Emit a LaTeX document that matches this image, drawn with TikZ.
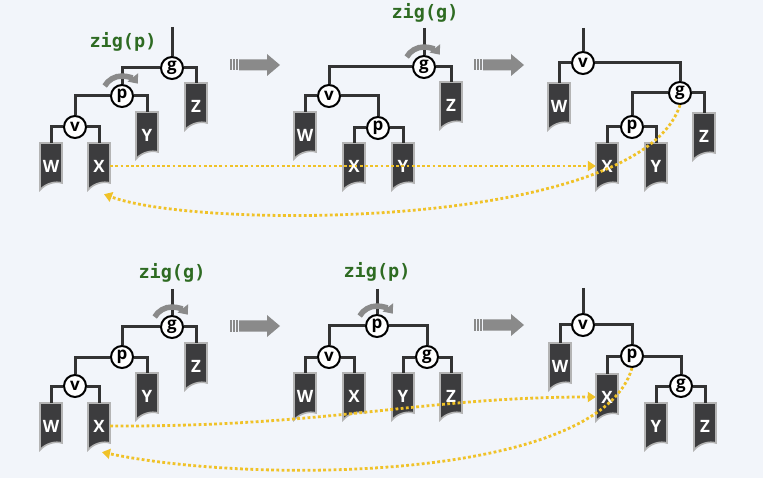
\documentclass[tikz,border=0pt]{standalone}
\usepackage{fontspec}
\setsansfont{Open Sans}
\setmonofont{DejaVu Sans Mono}
\usetikzlibrary{arrows.meta}
\definecolor{bgblue}{HTML}{F2F5FA}
\definecolor{edgegray}{HTML}{333333}
\definecolor{leafgray}{HTML}{3C3C3E}
\definecolor{leafrim}{HTML}{B4B4B4}
\definecolor{turngray}{HTML}{8A8A8A}
\definecolor{ziggreen}{HTML}{2E6B22}
\definecolor{swapgold}{HTML}{F0C228}

% subtree: name, x, top, label
\newcommand{\leaf}[4]{%
  \path[fill=leafgray, draw=leafrim, line width=1.6pt]
    ({#2-11},{#3}) -- ({#2+11},{#3}) -- ({#2+11},{#3+40})
    .. controls ({#2+5},{#3+38}) and ({#2-5},{#3+40}) .. ({#2-11},{#3+47}) -- cycle;
  \node[leaf] (#1) at ({#2},{#3+23}) {#4};}

% big gray arrow between stages: x, y
\newcommand{\movearrow}[2]{%
  \foreach \s in {0,3,6}
    \fill[turngray] ({#1+\s},{#2-5.5}) rectangle ++(1.6,11);
  \fill[turngray] ({#1+9},{#2-5.5}) -- ({#1+37},{#2-5.5}) -- ({#1+37},{#2-11})
    -- ({#1+50},{#2}) -- ({#1+37},{#2+11}) -- ({#1+37},{#2+5.5}) -- ({#1+9},{#2+5.5}) -- cycle;}

% rotation mark above a node
\newcommand{\turn}[1]{%
  \draw[turnarc] ([shift={(210:20)}]#1.center) arc[start angle=210, end angle=322, radius=20];}

\begin{document}
\begin{tikzpicture}[x=1pt, y=-1pt,
    treenode/.style={circle, draw=black, fill=white, line width=2pt, minimum size=22pt,
      inner sep=0pt, font=\sffamily\bfseries\fontsize{17}{17}\selectfont},
    leaf/.style={minimum width=22pt, minimum height=46pt, inner sep=0pt, text=white,
      font=\sffamily\bfseries\fontsize{17}{17}\selectfont},
    branch/.style={edgegray, line width=3pt},
    turnarc/.style={turngray, line width=5.5pt, -{Triangle[width=13pt,length=8pt]}},
    zig/.style={text=ziggreen, font=\ttfamily\bfseries\fontsize{18.5}{18.5}\selectfont},
    swapline/.style={swapgold, line width=2.8pt, dash pattern=on 2.8pt off 2.4pt,
      -{Triangle[width=10pt,length=8pt]}}]
  \fill[bgblue] (0,0) rectangle (763,478);
  \useasboundingbox (0,0) rectangle (763,478);

  % top left
  \leaf{aW}{51}{143}{W}
  \leaf{aX}{99}{143}{X}
  \leaf{aY}{147}{112}{Y}
  \leaf{aZ}{196}{83}{Z}
  \node[treenode] (ag) at (172,68) {g};
  \node[treenode] (ap) at (122,96) {p};
  \node[treenode] (av) at (75,127) {v};
  \coordinate (atop) at (172,27);
  \draw[branch] (atop) -- (ag.north);
  \draw[branch] (ag.west) -| (ap.north);
  \draw[branch] (ag.east) -| (aZ.north);
  \draw[branch] (ap.west) -| (av.north);
  \draw[branch] (ap.east) -| (aY.north);
  \draw[branch] (av.west) -| (aW.north);
  \draw[branch] (av.east) -| (aX.north);
  \node[zig] (azig) at (123,42) {zig(p)};
  \turn{ap}

  % top middle
  \leaf{bW}{305}{112}{W}
  \leaf{bX}{354}{143}{X}
  \leaf{bY}{403}{143}{Y}
  \leaf{bZ}{451}{82}{Z}
  \node[treenode] (bg) at (424,67) {g};
  \node[treenode] (bv) at (329,96) {v};
  \node[treenode] (bp) at (378,128) {p};
  \coordinate (btop) at (424,28);
  \draw[branch] (btop) -- (bg.north);
  \draw[branch] (bg.west) -| (bv.north);
  \draw[branch] (bg.east) -| (bZ.north);
  \draw[branch] (bv.west) -| (bW.north);
  \draw[branch] (bv.east) -| (bp.north);
  \draw[branch] (bp.west) -| (bX.north);
  \draw[branch] (bp.east) -| (bY.north);
  \node[zig] (bzig) at (425,13) {zig(g)};
  \turn{bg}

  % top right
  \leaf{cW}{559}{83}{W}
  \leaf{cX}{607}{143}{X}
  \leaf{cY}{656}{143}{Y}
  \leaf{cZ}{704}{113}{Z}
  \node[treenode] (cv) at (583,63) {v};
  \node[treenode] (cg) at (680,93) {g};
  \node[treenode] (cp) at (632,127) {p};
  \coordinate (ctop) at (583,28);
  \draw[branch] (ctop) -- (cv.north);
  \draw[branch] (cv.west) -| (cW.north);
  \draw[branch] (cv.east) -| (cg.north);
  \draw[branch] (cg.west) -| (cp.north);
  \draw[branch] (cg.east) -| (cZ.north);
  \draw[branch] (cp.west) -| (cX.north);
  \draw[branch] (cp.east) -| (cY.north);

  % bottom left
  \leaf{dW}{51}{403}{W}
  \leaf{dX}{99}{403}{X}
  \leaf{dY}{147}{373}{Y}
  \leaf{dZ}{196}{343}{Z}
  \node[treenode] (dg) at (172,327) {g};
  \node[treenode] (dp) at (122,357) {p};
  \node[treenode] (dv) at (75,386) {v};
  \coordinate (dtop) at (172,289);
  \draw[branch] (dtop) -- (dg.north);
  \draw[branch] (dg.west) -| (dp.north);
  \draw[branch] (dg.east) -| (dZ.north);
  \draw[branch] (dp.west) -| (dv.north);
  \draw[branch] (dp.east) -| (dY.north);
  \draw[branch] (dv.west) -| (dW.north);
  \draw[branch] (dv.east) -| (dX.north);
  \node[zig] (dzig) at (172,273) {zig(g)};
  \turn{dg}

  % bottom middle
  \leaf{eW}{305}{373}{W}
  \leaf{eX}{354}{373}{X}
  \leaf{eY}{403}{373}{Y}
  \leaf{eZ}{451}{373}{Z}
  \node[treenode] (ep) at (377,326) {p};
  \node[treenode] (ev) at (329,357) {v};
  \node[treenode] (eg) at (427,357) {g};
  \coordinate (etop) at (377,289);
  \draw[branch] (etop) -- (ep.north);
  \draw[branch] (ep.west) -| (ev.north);
  \draw[branch] (ep.east) -| (eg.north);
  \draw[branch] (ev.west) -| (eW.north);
  \draw[branch] (ev.east) -| (eX.north);
  \draw[branch] (eg.west) -| (eY.north);
  \draw[branch] (eg.east) -| (eZ.north);
  \node[zig] (ezig) at (377,272) {zig(p)};
  \turn{ep}

  % bottom right
  \leaf{fW}{560}{343}{W}
  \leaf{fX}{607}{374}{X}
  \leaf{fY}{656}{403}{Y}
  \leaf{fZ}{705}{403}{Z}
  \node[treenode] (fv) at (583,325) {v};
  \node[treenode] (fp) at (632,356) {p};
  \node[treenode] (fg) at (681,386) {g};
  \coordinate (ftop) at (583,288);
  \draw[branch] (ftop) -- (fv.north);
  \draw[branch] (fv.west) -| (fW.north);
  \draw[branch] (fv.east) -| (fp.north);
  \draw[branch] (fp.west) -| (fX.north);
  \draw[branch] (fp.east) -| (fg.north);
  \draw[branch] (fg.west) -| (fY.north);
  \draw[branch] (fg.east) -| (fZ.north);

  % stage arrows
  \movearrow{230}{65}
  \movearrow{474}{65}
  \movearrow{230}{326}
  \movearrow{474}{325}

  % moved subtrees
  \draw[swapline] (aX.east) -- (cX.west);
  \draw[swapline] (cg.south) .. controls (640,230) and (200,230) .. ([xshift=5pt,yshift=-5pt]aX.south);
  \draw[swapline] (dX.east) .. controls (330,427) and (420,397) .. (fX.west);
  \draw[swapline] (fp.south) .. controls (600,480) and (260,485) .. ([xshift=3pt,yshift=-3pt]dX.south);
\end{tikzpicture}
\end{document}
